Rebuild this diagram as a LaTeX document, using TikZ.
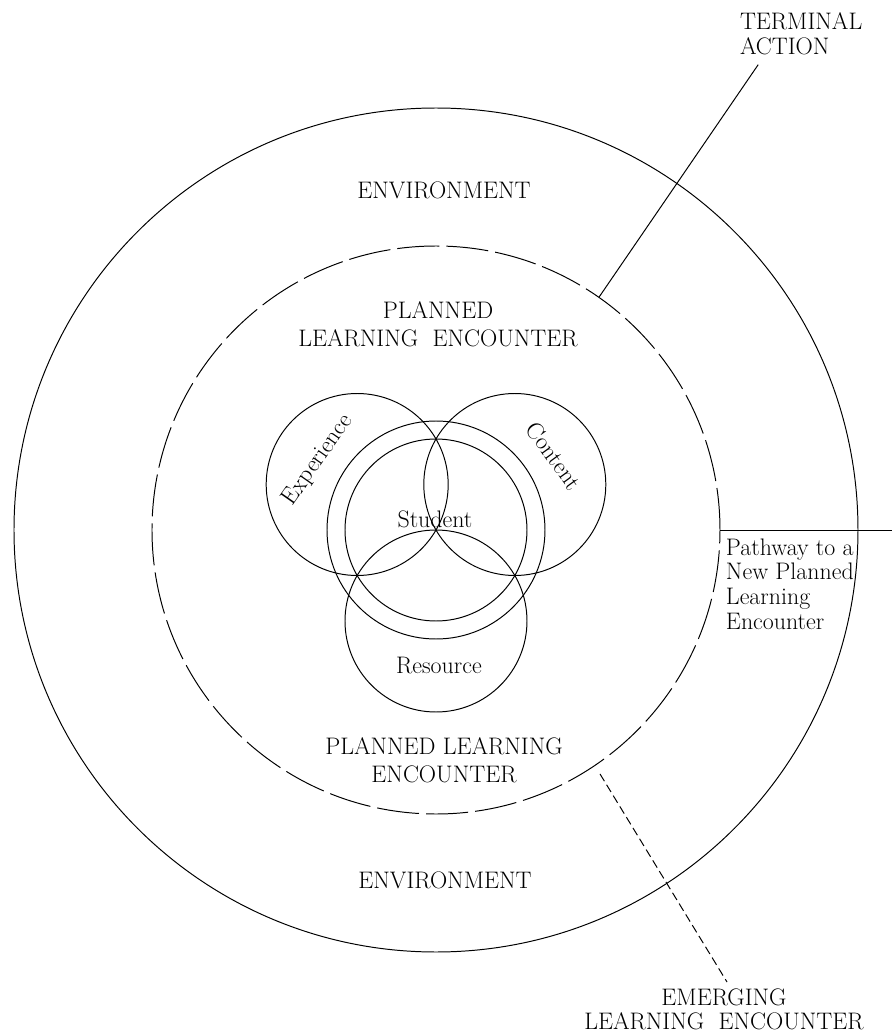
\documentclass[tikz,border=0pt]{standalone}
\usetikzlibrary{calc}
\usetikzlibrary{positioning}

\begin{document}
\begin{tikzpicture}
[
% 線の太さと文字
line width=0.7pt,
every node/.style={inner sep=0, outer sep=0, font=\fontsize{17}{20}\selectfont},
% 円
ring/.style={circle, draw, inner sep=0, outer sep=0},
% 破線の円
planring/.style={ring, dash pattern=on 30pt off 5pt},
% 引き出し線
link/.style={line width=0.7pt},
emlink/.style={link, dash pattern=on 6pt off 3pt},
% 文字
words/.style={align=center},
sidewords/.style={align=left, font=\fontsize{17}{17.5}\selectfont}
]
\useasboundingbox (-10.9,-12.575) rectangle (11.4,13.25);
\coordinate (c) at (0,0);

% 円の配置
\node [ring, minimum size=21.1cm] (env) at (c) {};
\node [planring, minimum size=14.2cm] (plan) at (c) {};
\node [ring, minimum size=5.45cm] (stuout) at (c) {};
\node [ring, minimum size=4.55cm] (stuin) at (c) {};
\node [ring, minimum size=4.55cm] (exp) at ($(c)+(150:2.275)$) {};
\node [ring, minimum size=4.55cm] (con) at ($(c)+(30:2.275)$) {};
\node [ring, minimum size=4.55cm] (res) at ($(c)+(270:2.275)$) {};

% 文字の配置
\node [words] at (0.2,8.5) (envtop) {ENVIRONMENT};
\node [words] at (0.05,5.15) (plantop) {PLANNED\\LEARNING\ \ ENCOUNTER};
\node [words] at (0.2,-5.76) (planbot) {PLANNED LEARNING\\ENCOUNTER};
\node [words] at (0.225,-8.75) (envbot) {ENVIRONMENT};
\node at (-0.025,0.26) (stu) {Student};
\node [rotate=55] at (-2.95,1.75) (exptxt) {Experience};
\node [rotate=-54] at (2.95,1.85) (contxt) {Content};
\node at (0.075,-3.39) (restxt) {Resource};

% 引き出し線
\coordinate (ta) at ($(c)+(55.3:14.15)$);
\draw [link] (plan.55) -- (ta);
\node [sidewords, anchor=west] at (7.6,12.4) (tatxt) {TERMINAL\\ACTION};
\coordinate (pw) at (11.4,0);
\draw [link] (plan.0) -- (pw);
\node [sidewords, anchor=north west] at (7.25,-0.22) (pwtxt)
{Pathway to a\\New Planned\\Learning\\Encounter};
\coordinate (em) at (7.275,-11.3);
\draw [emlink, shorten <=0.25cm] (plan.-56) -- (em);
\node [sidewords, align=center] at (7.2,-11.98) (emtxt)
{EMERGING\\LEARNING\ \ ENCOUNTER};
\end{tikzpicture}
\end{document}
